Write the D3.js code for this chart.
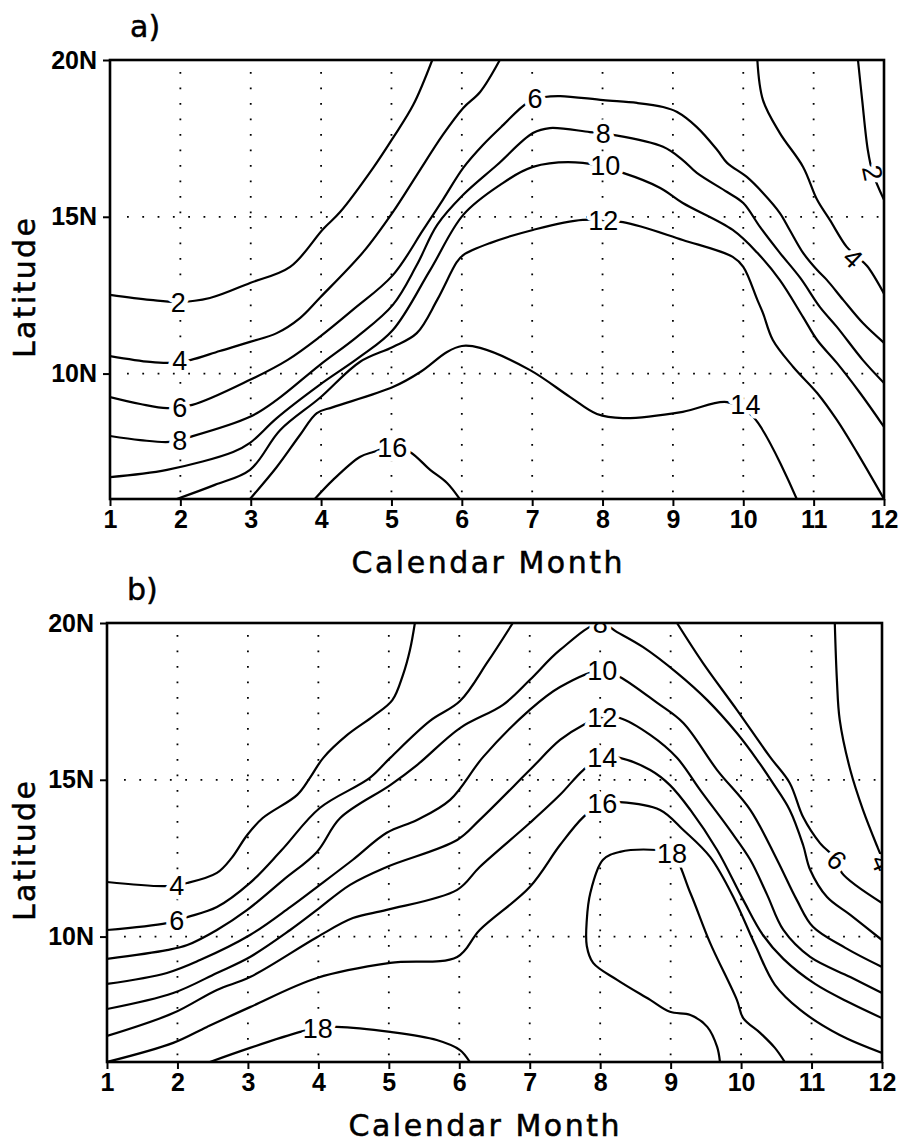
<!DOCTYPE html>
<html>
<head>
<meta charset="utf-8">
<script src="https://cdnjs.cloudflare.com/ajax/libs/d3/7.8.5/d3.min.js"></script>
<style>
  body { margin: 0; background: #fff; }
  svg { display: block; background: #fff; }
  .tick text { font-family: "Liberation Sans", Arial, sans-serif; font-weight: bold; font-size: 25px; fill: #000; }
  .tick line { stroke: #000; stroke-width: 2px; }
  .title { font-family: "DejaVu Sans", sans-serif; font-size: 30px; fill: #000; stroke: #000; stroke-width: 0.5px; }
  .clabel { font-family: "Liberation Sans", Arial, sans-serif; font-size: 27px; fill: #000;
            paint-order: stroke; stroke: #fff; stroke-width: 9px; stroke-linejoin: round; }
</style>
</head>
<body>
<div id="chart"></div>
<script>
// axis values
var months = [1, 2, 3, 4, 5, 6, 7, 8, 9, 10, 11, 12];
var latTicks = [10, 15, 20];
var gridMonths = [2, 3, 4, 5, 6, 7, 8, 9, 10, 11];
var gridLats = [10, 15];

// ---- panel a contours, points are [month, latitude] ----
var a2west = [[1.00,12.51],[1.57,12.35],[1.97,12.28],[2.42,12.41],[2.99,12.89],[3.56,13.40],[4.03,14.61],[4.27,15.15],[4.74,16.56],[5.02,17.51],[5.31,18.57],[5.58,20.0]];
var a2east = [[11.63,20.0],[11.69,18.72],[11.77,17.13],[11.84,16.40],[12.0,15.54]];
var a4west = [[1.00,10.56],[1.57,10.37],[1.85,10.34],[2.14,10.43],[2.56,10.72],[2.99,11.01],[3.37,11.29],[3.70,11.77],[3.98,12.41],[4.60,13.88],[5.02,15.15],[5.36,16.33],[5.73,17.61],[6.02,18.47],[6.26,18.98],[6.54,20.0]];
var a4east = [[10.20,20.0],[10.28,18.72],[10.52,17.67],[10.85,16.59],[11.05,15.54],[11.23,14.90],[11.47,14.04],[11.62,13.72],[11.76,13.43],[12.0,12.55]];
var a6 = [[1.00,9.25],[1.43,9.03],[1.81,8.90],[2.17,9.00],[2.99,9.80],[3.52,10.43],[3.98,11.17],[4.45,12.03],[5.02,13.14],[5.45,14.58],[5.73,15.54],[6.02,16.56],[6.30,17.29],[6.59,17.93],[6.93,18.63],[7.18,18.82],[7.40,18.85],[8.01,18.72],[8.49,18.63],[8.86,18.50],[9.06,18.34],[9.34,17.86],[9.63,17.13],[9.77,16.72],[10.05,16.27],[10.28,15.76],[10.52,15.12],[10.66,14.58],[10.85,13.85],[11.05,13.30],[11.19,12.98],[11.42,12.35],[11.70,11.61],[12.0,10.98]];
var a8 = [[1.00,8.01],[1.43,7.88],[1.85,7.82],[2.14,7.98],[2.99,8.62],[3.37,9.16],[3.98,10.27],[4.51,11.17],[5.02,12.19],[5.36,13.46],[5.65,14.74],[6.02,15.70],[6.50,16.65],[7.01,17.67],[7.25,17.83],[7.82,17.70],[8.15,17.61],[8.86,17.23],[9.14,16.81],[9.34,16.40],[9.77,15.79],[10.00,15.44],[10.24,14.67],[10.52,13.85],[10.81,13.05],[11.09,12.12],[11.33,11.49],[11.70,10.43],[12.0,9.70]];
var a10 = [[1.00,6.70],[1.81,6.93],[2.75,7.50],[2.99,7.79],[3.37,8.58],[3.98,9.64],[4.55,10.53],[5.02,11.39],[5.55,13.30],[6.02,15.06],[6.54,16.01],[7.01,16.59],[7.72,16.72],[8.29,16.40],[8.82,15.92],[9.14,15.44],[9.85,14.58],[10.20,13.85],[10.52,12.98],[10.85,11.80],[11.05,11.07],[11.33,10.34],[11.66,9.38],[12.0,8.30]];
var a12 = [[1.95,6.0],[2.49,6.45],[2.99,6.93],[3.42,8.20],[3.98,9.22],[4.55,10.37],[5.02,10.85],[5.36,11.29],[5.65,12.35],[5.93,13.56],[6.02,13.78],[6.40,14.16],[7.01,14.58],[7.72,14.90],[8.29,14.83],[9.14,14.26],[9.85,13.72],[10.0,13.40],[10.20,12.35],[10.28,11.93],[10.42,11.07],[10.71,10.21],[11.05,9.38],[11.33,8.52],[11.62,7.47],[12.0,6.0]];
var a14 = [[2.99,6.0],[3.37,7.02],[3.70,8.04],[3.94,8.74],[4.17,8.93],[5.02,9.57],[5.41,10.05],[5.79,10.69],[6.0,10.88],[6.26,10.82],[6.97,10.11],[7.54,9.25],[7.92,8.71],[8.29,8.58],[9.14,8.78],[9.77,9.09],[10.14,8.62],[10.76,6.0]];
var a16 = [[3.91,6.0],[4.17,6.61],[4.55,7.34],[4.74,7.50],[5.01,7.66],[5.26,7.50],[5.55,6.93],[5.79,6.51],[5.97,6.0]];

// labels sitting on the lines, [month, latitude, text]
var labelsA = [[1.97,12.28,"2"],[1.99,10.43,"4"],[1.99,8.93,"6"],[1.99,7.88,"8"],[5.01,7.66,"16"],[10.03,9.03,"14"],[8.01,14.90,"12"],[8.04,16.65,"10"],[8.01,17.67,"8"],[7.04,18.79,"6"]];
// labels turned along their line
var tiltedA = [[11.84,16.40,"2"],[11.56,13.69,"4"]];

// ---- panel b contours ----
var b4west = [[1.00,11.74],[1.85,11.61],[2.14,11.71],[2.56,12.03],[2.77,12.51],[2.99,13.24],[3.21,13.78],[3.70,14.52],[3.88,15.06],[4.07,15.70],[4.41,16.43],[4.78,17.03],[5.05,17.54],[5.20,18.34],[5.30,19.14],[5.37,20.0]];
var b4east = [[11.33,20.0],[11.36,18.18],[11.40,16.91],[11.55,15.31],[11.73,14.04],[11.94,12.83],[12.0,12.51]];
var b6west = [[1.00,10.21],[1.85,10.43],[2.14,10.62],[2.56,10.94],[3.03,11.71],[3.48,12.76],[4.02,14.10],[4.73,15.06],[5.02,15.70],[5.58,16.87],[6.01,17.51],[6.40,18.75],[6.76,20.0]];
var b6east = [[9.09,20.0],[9.46,18.72],[9.94,17.23],[10.41,15.73],[10.69,14.90],[10.88,13.81],[11.12,12.98],[11.36,12.45],[11.43,12.03],[12.0,11.07]];
var b8 = [[1.00,9.29],[1.85,9.57],[2.14,9.73],[2.56,10.21],[2.99,10.85],[3.50,11.80],[3.98,12.70],[4.31,13.78],[5.02,14.83],[5.40,15.47],[6.01,16.65],[6.62,17.39],[7.00,18.18],[7.43,19.14],[8.00,20.0],[8.24,19.71],[8.61,19.23],[9.09,18.41],[9.52,17.54],[9.94,16.49],[10.23,15.63],[10.45,14.90],[10.69,14.04],[10.88,12.92],[10.98,12.13],[11.22,11.26],[11.55,10.69],[12.0,9.89]];
var b10 = [[1.00,8.49],[1.85,8.84],[2.32,9.25],[3.03,10.05],[3.60,10.94],[3.98,11.58],[4.49,12.45],[4.97,13.31],[5.40,13.72],[5.87,14.36],[6.34,15.73],[7.00,17.23],[7.43,17.96],[8.03,18.50],[8.28,18.28],[8.81,17.45],[9.18,16.81],[9.66,15.31],[10.13,14.04],[10.51,12.45],[10.79,11.17],[11.02,10.31],[11.48,9.64],[12.0,9.03]];
var b12 = [[1.00,7.69],[1.94,8.20],[2.56,8.84],[3.03,9.35],[3.60,10.21],[3.98,10.85],[4.45,11.65],[4.97,12.22],[5.97,13.08],[6.29,13.72],[7.00,15.31],[7.43,16.27],[7.76,16.75],[8.03,17.00],[8.28,16.97],[8.71,16.43],[9.09,15.70],[9.42,14.67],[9.84,13.40],[10.13,12.45],[10.37,11.33],[10.60,10.21],[10.98,9.35],[11.55,8.71],[12.0,8.20]];
var b14 = [[1.00,6.83],[1.94,7.56],[2.56,8.30],[3.03,8.71],[3.98,9.98],[4.49,10.59],[4.97,10.85],[5.97,11.49],[6.29,12.22],[7.00,13.62],[7.43,14.52],[7.76,15.31],[8.03,15.73],[8.28,15.70],[8.71,15.31],[8.99,14.83],[9.28,14.04],[9.66,12.76],[10.03,11.17],[10.31,10.05],[10.60,9.29],[11.05,8.49],[11.55,7.88],[12.0,7.40]];
var b16 = [[1.00,6.0],[1.94,6.61],[2.42,7.12],[3.03,7.75],[3.98,8.68],[5.02,9.16],[5.97,9.35],[6.29,10.21],[7.00,11.58],[7.43,12.92],[7.76,13.81],[8.03,14.26],[8.28,14.29],[8.85,14.04],[9.18,13.40],[9.56,12.54],[9.91,11.17],[10.20,9.73],[10.48,8.46],[10.84,7.66],[11.40,6.86],[12.0,6.29]];
var b18west = [[2.46,6.0],[3.03,6.45],[3.74,6.96],[3.99,7.09],[4.26,7.12],[5.02,6.96],[5.68,6.70],[6.01,6.38],[6.15,6.0]];
var b18east = [[9.70,6.0],[9.66,6.48],[9.52,7.12],[9.28,7.50],[8.99,7.60],[8.71,7.98],[8.24,8.62],[7.90,9.16],[7.81,9.70],[7.81,10.53],[7.86,11.39],[8.04,12.45],[8.28,12.70],[8.81,12.76],[9.02,12.67],[9.28,11.39],[9.56,9.80],[9.94,7.98],[10.03,7.40],[10.27,6.93],[10.48,6.45],[10.62,6.0]];

var labelsB = [[1.99,11.65,"4"],[1.99,10.53,"6"],[3.99,7.09,"18"],[8.00,20.0,"8"],[8.03,18.50,"10"],[8.03,17.00,"12"],[8.03,15.73,"14"],[8.03,14.26,"16"],[9.02,12.67,"18"]];
var tiltedB = [[11.36,12.45,"6"],[12.0,12.35,"4"]];

var svg = d3.select("#chart").append("svg")
  .attr("width", 901)
  .attr("height", 1148);

// find the direction of a contour where a label sits (degrees)
function lineAngle(lab, contours, x, y) {
  var best = 0, bestD = Infinity;
  var px = x(lab[0]), py = y(lab[1]);
  contours.forEach(function (c) {
    if (String(c.level) !== lab[2]) return;
    for (var i = 0; i < c.points.length - 1; i++) {
      var x1 = x(c.points[i][0]), y1 = y(c.points[i][1]);
      var x2 = x(c.points[i + 1][0]), y2 = y(c.points[i + 1][1]);
      var dx = x2 - x1, dy = y2 - y1;
      var t = ((px - x1) * dx + (py - y1) * dy) / (dx * dx + dy * dy);
      t = Math.max(0, Math.min(1, t));
      var d = Math.hypot(x1 + t * dx - px, y1 + t * dy - py);
      if (d < bestD) { bestD = d; best = Math.atan2(dy, dx) * 180 / Math.PI; }
    }
  });
  if (best > 90) best -= 180;
  if (best < -90) best += 180;
  return best;
}

function drawPanel(p) {
  var x = d3.scaleLinear().domain([1, 12]).range([p.left, p.right]);
  var y = d3.scaleLinear().domain([6, 20]).range([p.bottom, p.top]);
  var g = svg.append("g");

  svg.append("clipPath").attr("id", "clip-" + p.name)
    .append("rect")
    .attr("x", p.left).attr("y", p.top)
    .attr("width", p.right - p.left).attr("height", p.bottom - p.top);

  // dotted grid
  g.selectAll(".vgrid").data(gridMonths).enter().append("line")
    .attr("x1", d => x(d)).attr("x2", d => x(d))
    .attr("y1", p.top + 12).attr("y2", p.bottom)
    .attr("stroke", "#000").attr("stroke-width", 1.8)
    .attr("stroke-dasharray", "1.8,13.7");
  g.selectAll(".hgrid").data(gridLats).enter().append("line")
    .attr("x1", p.left + 17).attr("x2", p.right)
    .attr("y1", d => y(d)).attr("y2", d => y(d))
    .attr("stroke", "#000").attr("stroke-width", 1.8)
    .attr("stroke-dasharray", "1.8,13.5");

  // contour lines
  var line = d3.line()
    .x(d => x(d[0]))
    .y(d => y(d[1]))
    .curve(d3.curveCatmullRom.alpha(0.5));

  var inner = g.append("g").attr("clip-path", "url(#clip-" + p.name + ")");
  inner.selectAll("path.contour").data(p.contours).enter().append("path")
    .attr("class", "contour")
    .attr("d", d => line(d.points))
    .attr("fill", "none")
    .attr("stroke", "#000")
    .attr("stroke-width", 2.2)
    .attr("stroke-linejoin", "round");

  // labels with a white halo so the line looks broken
  inner.selectAll("text.flat").data(p.labels).enter().append("text")
    .attr("class", "clabel")
    .attr("x", d => x(d[0])).attr("y", d => y(d[1]))
    .attr("dy", "0.36em")
    .attr("text-anchor", "middle")
    .text(d => d[2]);

  inner.selectAll("text.tilt").data(p.tilted).enter().append("text")
    .attr("class", "clabel")
    .attr("text-anchor", "middle")
    .attr("dy", "0.36em")
    .attr("transform", d => "translate(" + x(d[0]) + "," + y(d[1]) + ") rotate(" + lineAngle(d, p.contours, x, y) + ")")
    .text(d => d[2]);

  // frame
  g.append("rect")
    .attr("x", p.left).attr("y", p.top)
    .attr("width", p.right - p.left).attr("height", p.bottom - p.top)
    .attr("fill", "none").attr("stroke", "#000").attr("stroke-width", 2.6);

  // axes
  var xAxis = g.append("g")
    .attr("transform", "translate(0," + p.bottom + ")")
    .call(d3.axisBottom(x).tickValues(months).tickSize(7).tickPadding(4));
  xAxis.select(".domain").remove();

  var yAxis = g.append("g")
    .attr("transform", "translate(" + p.left + ",0)")
    .call(d3.axisLeft(y).tickValues(latTicks).tickSize(7).tickPadding(6)
      .tickFormat(d => d + "N"));
  yAxis.select(".domain").remove();

  // titles
  g.append("text").attr("class", "title")
    .attr("x", p.left + 20).attr("y", p.top - 23)
    .text(p.name + ")");

  g.append("text").attr("class", "title")
    .attr("x", p.monthX).attr("y", p.bottom + 74)
    .attr("text-anchor", "middle")
    .attr("textLength", 271).attr("lengthAdjust", "spacing")
    .text("Calendar Month");

  g.append("text").attr("class", "title")
    .attr("transform", "translate(35," + (p.top + 228) + ") rotate(-90)")
    .attr("text-anchor", "middle")
    .attr("textLength", 140).attr("lengthAdjust", "spacing")
    .text("Latitude");
}

drawPanel({
  name: "a", left: 110, right: 884, top: 60, bottom: 499, monthX: 487,
  contours: [
    { level: 2, points: a2west }, { level: 2, points: a2east },
    { level: 4, points: a4west }, { level: 4, points: a4east },
    { level: 6, points: a6 }, { level: 8, points: a8 },
    { level: 10, points: a10 }, { level: 12, points: a12 },
    { level: 14, points: a14 }, { level: 16, points: a16 }
  ],
  labels: labelsA, tilted: tiltedA
});

drawPanel({
  name: "b", left: 107, right: 882, top: 623, bottom: 1062, monthX: 484,
  contours: [
    { level: 4, points: b4west }, { level: 4, points: b4east },
    { level: 6, points: b6west }, { level: 6, points: b6east },
    { level: 8, points: b8 }, { level: 10, points: b10 },
    { level: 12, points: b12 }, { level: 14, points: b14 },
    { level: 16, points: b16 }, { level: 18, points: b18west },
    { level: 18, points: b18east }
  ],
  labels: labelsB, tilted: tiltedB
});
</script>
</body>
</html>
